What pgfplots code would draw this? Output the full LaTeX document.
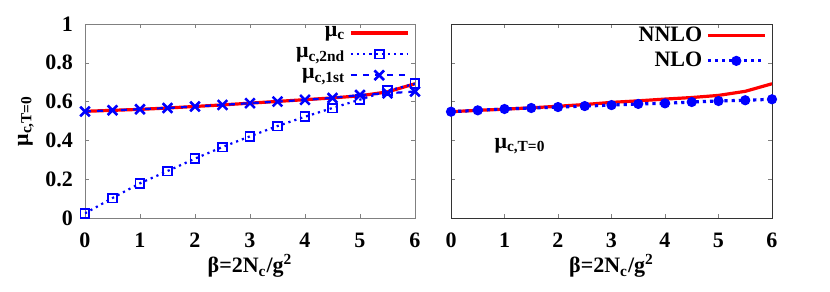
\documentclass[border=0pt]{standalone}
\usepackage{fontspec}
\setmainfont{Liberation Serif}
\usepackage{pgfplots}
\pgfplotsset{compat=1.18}
\definecolor{gblue}{RGB}{0,0,255}
\definecolor{gred}{RGB}{255,0,0}
\begin{document}
\begin{tikzpicture}[font=\bfseries\fontsize{11}{13}\selectfont]
\pgfplotsset{
  every axis/.append style={
    scale only axis,
    xmin=0,xmax=6,ymin=0,ymax=1,
    xtick={0,1,2,3,4,5,6},
    ytick={0,0.2,0.4,0.6,0.8,1},
    tick align=inside,
    major tick length=2pt,
    /pgf/number format/assume math mode=true,
    tick label style={font=\bfseries\fontsize{11}{13}\selectfont},
    xticklabel style={yshift=-4pt},
    yticklabel style={xshift=-2.5pt},
    label style={font=\bfseries\fontsize{11}{13}\selectfont},
    xlabel={β=2N\textsubscript{c}/g\textsuperscript{2}},
    xlabel style={yshift=3.5pt},
    legend style={draw=none,fill=none,at={(0.99,1.02)},anchor=north east,
      legend cell align=right,row sep=0pt,inner sep=1pt,
      font=\bfseries\fontsize{11}{13}\selectfont},
    legend plot pos=right,
    legend image code/.code={\draw[mark repeat=2,mark phase=2,##1] plot coordinates {(0cm,0cm) (0.5cm,0cm) (1cm,0cm)};},
  }
}
\useasboundingbox (0,0) rectangle (415pt,145.5pt);
% Left panel
\begin{axis}[at={(42.5pt,36.5pt)},anchor=south west,width=165pt,height=97pt,
  axis line style={gray},
  ylabel={μ\textsubscript{c,T=0}},
  ylabel style={yshift=-1pt},
]
\addplot[gred,line width=1.6pt] coordinates {
(0,0.550) (0.5,0.555) (1,0.560) (1.5,0.567) (2,0.575) (2.5,0.583) (3,0.592)
(3.5,0.601) (4,0.610) (4.5,0.619) (5,0.630) (5.5,0.650) (6,0.692)};
\addlegendentry{μ\textsubscript{c}}
\addplot[gblue,line width=1.1pt,dotted,mark=square,mark size=2.2pt,mark options={solid,line width=0.9pt}] coordinates {
(0,0.024) (0.5,0.103) (1,0.179) (1.5,0.242) (2,0.306) (2.5,0.366) (3,0.421)
(3.5,0.474) (4,0.522) (4.5,0.567) (5,0.610) (5.5,0.656) (6,0.692)};
\addlegendentry{μ\textsubscript{c,2nd}}
\addplot[gblue,line width=1.1pt,dashed,mark=x,mark size=3.4pt,mark options={solid,line width=1.3pt}] coordinates {
(0,0.549) (0.5,0.555) (1,0.561) (1.5,0.567) (2,0.575) (2.5,0.583) (3,0.592)
(3.5,0.600) (4,0.609) (4.5,0.619) (5,0.634) (5.5,0.643) (6,0.652)};
\addlegendentry{μ\textsubscript{c,1st}}
\end{axis}
% Right panel
\begin{axis}[at={(225.5pt,36.5pt)},anchor=south west,width=160.5pt,height=97pt,
  axis line style={black!80},
  yticklabels={},
]
\addplot[gred,line width=1.6pt] coordinates {
(0,0.548) (0.5,0.555) (1,0.561) (1.5,0.568) (2,0.576) (2.5,0.585) (3,0.596)
(3.5,0.604) (4,0.613) (4.5,0.621) (5,0.632) (5.5,0.653) (6,0.692)};
\addlegendentry{NNLO}
\addplot[gblue,line width=1.6pt,dotted,mark=*,mark size=1.7pt,mark options={solid}] coordinates {
(0,0.548) (0.5,0.555) (1,0.562) (1.5,0.567) (2,0.572) (2.5,0.577) (3,0.582)
(3.5,0.588) (4,0.591) (4.5,0.598) (5,0.603) (5.5,0.607) (6,0.612)};
\addlegendentry{NLO}
\node[anchor=center] at (axis cs:1.29,0.37) {μ\textsubscript{c,T=0}};
\end{axis}
\end{tikzpicture}
\end{document}
